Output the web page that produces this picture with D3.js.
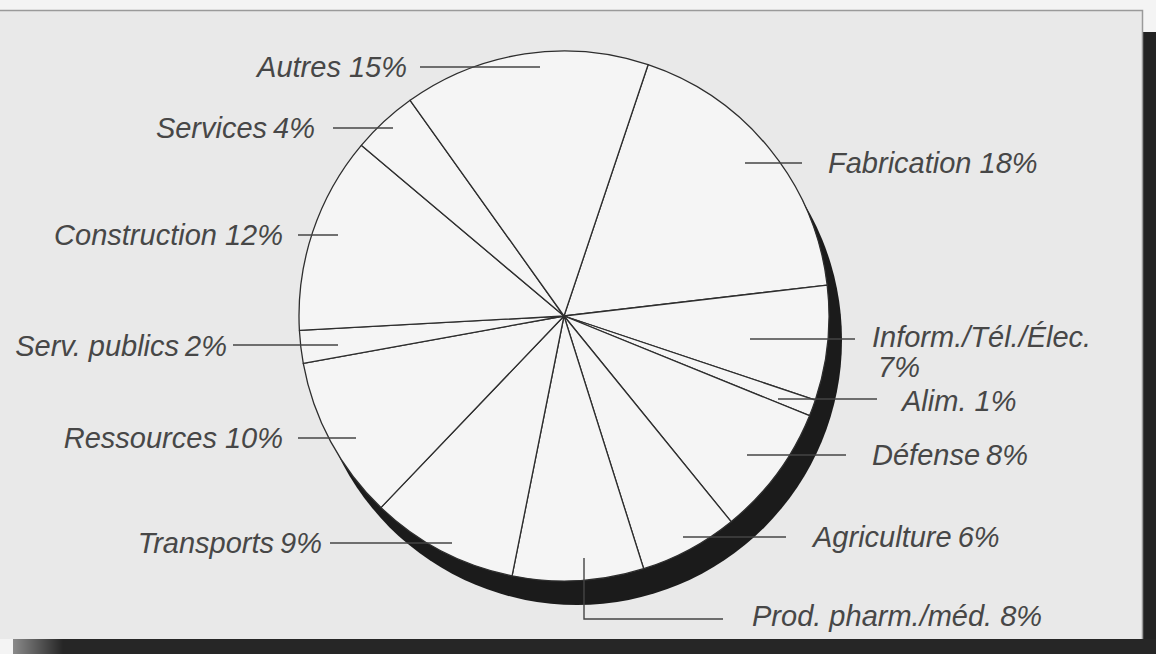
<!DOCTYPE html>
<html>
<head>
<meta charset="utf-8">
<script src="https://cdn.jsdelivr.net/npm/d3@7"></script>
<style>
  html, body { margin: 0; padding: 0; background: #f4f4f4; overflow: hidden; }
  text { font-family: "Liberation Sans", Arial, sans-serif; font-style: italic; }
</style>
</head>
<body>
<svg id="pie_svg"></svg>
<script>
// chart data (share in %)
var categories = ["Fabrication", "Inform./Tél./Élec.", "Alim.", "Défense", "Agriculture",
                  "Prod. pharm./méd.", "Transports", "Ressources", "Serv. publics",
                  "Construction", "Services", "Autres"];
var values = [18, 7, 1, 8, 6, 8, 9, 10, 2, 12, 4, 15];
var pctLabels = ["18%", "7%", "1%", "8%", "6%", "8%", "9%", "10%", "2%", "12%", "4%", "15%"];

// where each label and its leader line sit (layout only)
var labelLayout = [
  {side: "right", y: 163, x1: 745, x2: 802, tx: 828, ty: 173},
  {side: "right", y: 339, x1: 750, x2: 855, tx: 872, ty: 347, wrap: true},
  {side: "right", y: 399, x1: 778, x2: 877, tx: 902, ty: 411},
  {side: "right", y: 455, x1: 747, x2: 846, tx: 872, ty: 465, tight: true},
  {side: "right", y: 537, x1: 683, x2: 786, tx: 813, ty: 547, tight: true},
  {side: "elbow", y: 619, y1: 558, x1: 584, x2: 723, tx: 752, ty: 626},
  {side: "left", y: 543, x1: 452, x2: 330, tx: 322, ty: 553, tight: true},
  {side: "left", y: 438, x1: 356, x2: 298, tx: 283, ty: 448},
  {side: "left", y: 345, x1: 338, x2: 233, tx: 227, ty: 356, tight: true},
  {side: "left", y: 235, x1: 338, x2: 298, tx: 283, ty: 245},
  {side: "left", y: 128, x1: 393, x2: 333, tx: 315, ty: 138, tight: true},
  {side: "left", y: 67, x1: 540, x2: 420, tx: 407, ty: 77}
];

var width = 1156, height = 654;
var cx = 564, cy = 316, radius = 265;

var svg = d3.select("#pie_svg")
    .attr("width", width)
    .attr("height", height)
    .attr("viewBox", [0, 0, width, height]);

// scanned page look: dark backing on right and bottom
var defs = svg.append("defs");
var grad = defs.append("linearGradient").attr("id", "bottomFade");
grad.append("stop").attr("offset", "0%").attr("stop-color", "#8a8a8a");
grad.append("stop").attr("offset", "100%").attr("stop-color", "#262626");

svg.append("rect").attr("x", 1143).attr("y", 32).attr("width", width - 1143).attr("height", height - 32)
    .style("fill", "#232323");
svg.append("rect").attr("x", 13).attr("y", 639).attr("width", width - 13).attr("height", height - 639)
    .style("fill", "#262626");
svg.append("rect").attr("x", 13).attr("y", 639).attr("width", 50).attr("height", height - 639)
    .style("fill", "url(#bottomFade)");

// the sheet
svg.append("rect").attr("x", 0).attr("y", 10).attr("width", 1143).attr("height", 629)
    .style("fill", "#e9e9e9");
svg.append("path")
    .attr("d", "M0,10.5H1142.5V639")
    .style("fill", "none").style("stroke", "#9a9a9a").style("stroke-width", 1.5);

var g = svg.append("g").attr("transform", "translate(" + cx + "," + cy + ")");

// shadow behind the pie
g.append("circle")
    .attr("cx", 13).attr("cy", 24).attr("r", radius)
    .style("fill", "#1b1b1b");

var pie = d3.pie().sort(null).value(function(d) { return d; })
    .startAngle(18.5 * Math.PI / 180)
    .endAngle(18.5 * Math.PI / 180 + 2 * Math.PI);
var arc = d3.arc().innerRadius(0).outerRadius(radius);

g.selectAll(".slice")
    .data(pie(values))
  .enter()
    .append("path")
    .attr("class", "slice")
    .attr("d", arc)
    .style("fill", "#f5f5f5")
    .style("stroke", "#2e2e2e")
    .style("stroke-width", 1.3)
    .style("stroke-linejoin", "round");

// leader lines
var leaders = svg.append("g").attr("class", "leaders");
leaders.selectAll("path")
    .data(labelLayout)
  .enter()
    .append("path")
    .attr("d", function(d) {
      if (d.side == "elbow") return "M" + d.x1 + "," + d.y1 + "V" + d.y + "H" + d.x2;
      return "M" + d.x1 + "," + d.y + "H" + d.x2;
    })
    .style("fill", "none")
    .style("stroke", "#444")
    .style("stroke-width", 1.4);

// labels
var labels = svg.append("g").attr("class", "labels");
labels.selectAll("text")
    .data(labelLayout)
  .enter()
    .append("text")
    .attr("x", function(d) { return d.tx; })
    .attr("y", function(d) { return d.ty; })
    .attr("text-anchor", function(d) { return d.side == "left" ? "end" : "start"; })
    .style("font-size", "29px")
    .style("fill", "#474747")
    .each(function(d, i) {
      var t = d3.select(this);
      if (d.wrap) {
        t.append("tspan").text(categories[i]);
        t.append("tspan").attr("x", d.tx + 6).attr("dy", 30).text(pctLabels[i]);
      } else if (d.tight) {
        // some labels in the original have a narrow gap before the percentage
        t.append("tspan").text(categories[i]);
        t.append("tspan").attr("dx", 6).text(pctLabels[i]);
      } else {
        t.text(categories[i] + " " + pctLabels[i]);
      }
    });
</script>
</body>
</html>
